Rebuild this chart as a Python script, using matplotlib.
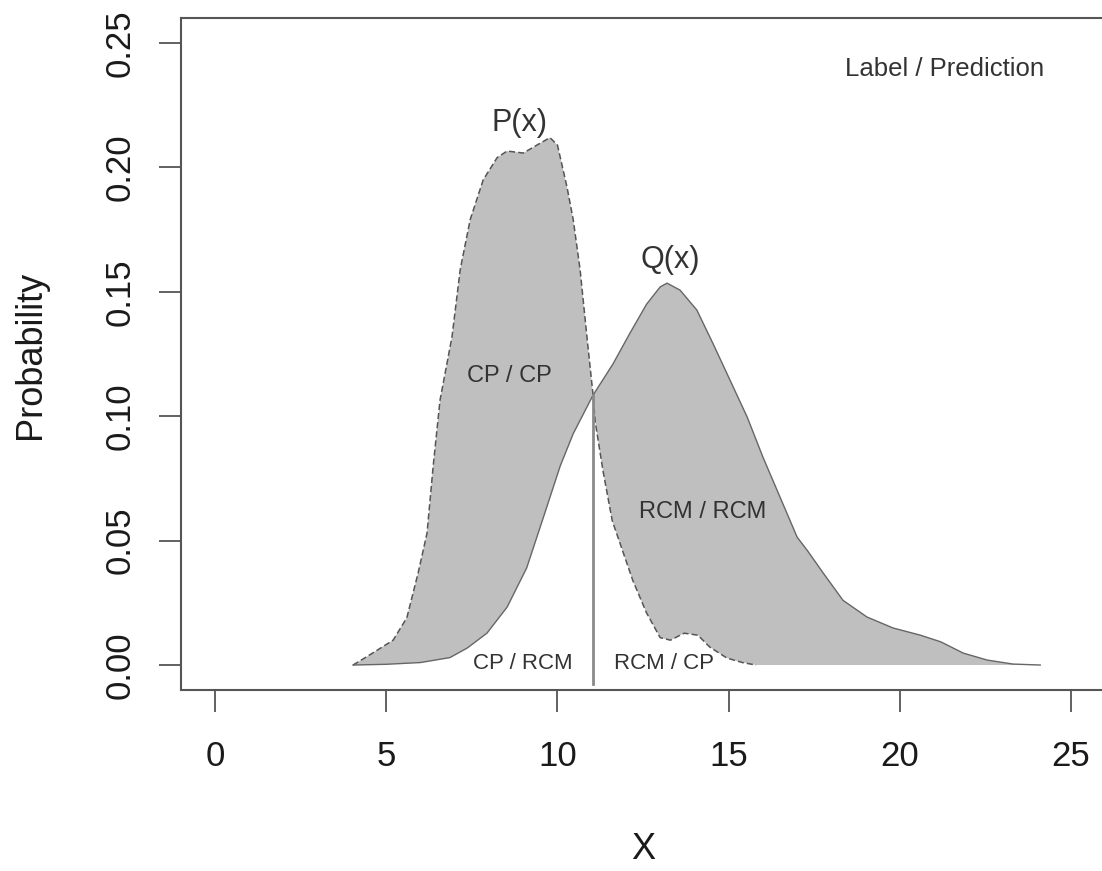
import numpy as np
import matplotlib.pyplot as plt

plt.rcParams['font.family'] = ['Liberation Sans', 'DejaVu Sans']

# P(x) curve (dashed)
p_x = [4.03, 4.6, 5.2, 5.6, 5.93, 6.19, 6.37, 6.57, 6.92, 7.16, 7.45, 7.83, 8.24, 8.53,
       9.0, 9.4, 9.78, 10.0, 10.28, 10.46, 10.66, 10.86, 11.04, 11.1, 11.33, 11.6, 11.9,
       12.2, 12.6, 13.0, 13.3, 13.7, 14.1, 14.45, 14.95, 15.4, 15.8]
p_y = [0.0, 0.0048, 0.010, 0.019, 0.037, 0.053, 0.080, 0.1065, 0.132, 0.159, 0.179, 0.195,
       0.204, 0.2066, 0.2058, 0.209, 0.212, 0.209, 0.192, 0.179, 0.159, 0.132, 0.1085,
       0.098, 0.078, 0.058, 0.046, 0.034, 0.021, 0.011, 0.010, 0.0128, 0.012, 0.0072,
       0.0028, 0.001, 0.0]

# Q(x) curve (solid)
q_x = [4.03, 5.0, 6.0, 6.86, 7.36, 7.94, 8.53, 9.1, 9.58, 10.08, 10.46, 11.04, 11.62, 12.1,
       12.6, 13.0, 13.2, 13.58, 14.07, 14.55, 15.04, 15.54, 16.0, 16.5, 17.0, 17.3, 17.76,
       18.34, 19.04, 19.8, 20.6, 21.2, 21.85, 22.55, 23.3, 24.1]
q_y = [0.0, 0.0003, 0.001, 0.003, 0.0068, 0.0128, 0.0233, 0.039, 0.059, 0.080, 0.093,
       0.1085, 0.121, 0.133, 0.145, 0.152, 0.1535, 0.1507, 0.1427, 0.129, 0.1145, 0.0997,
       0.0836, 0.0675, 0.0514, 0.046, 0.037, 0.026, 0.0193, 0.0149, 0.012, 0.0093, 0.0048,
       0.002, 0.0004, 0.0]

threshold = 11.04
x_ticks = [0, 5, 10, 15, 20, 25]
y_ticks = [0.00, 0.05, 0.10, 0.15, 0.20, 0.25]

fig = plt.figure(figsize=(11.02, 8.71), dpi=100)
ax = fig.add_axes([0.1641, 0.2079, 0.8389, 0.7712])

# grey area between the two curves
poly_x = np.concatenate([p_x, q_x[::-1]])
poly_y = np.concatenate([p_y, q_y[::-1]])
ax.fill(poly_x, poly_y, color='#bfbfbf', lw=0)
ax.plot(p_x, p_y, color='#555555', lw=1.1, ls=(0, (4, 2)))
ax.plot(q_x, q_y, color='#666666', lw=1.0)
ax.plot([threshold, threshold], [0.1085, -0.0075], color='#8a8a8a', lw=2)

ax.text(8.9, 0.218, 'P(x)', fontsize=22, ha='center', va='center', color='#333333')
ax.text(13.3, 0.163, 'Q(x)', fontsize=22, ha='center', va='center', color='#333333')
ax.text(21.3, 0.2395, 'Label / Prediction', fontsize=18.5, ha='center', va='center', color='#333333')
ax.text(8.6, 0.116, 'CP / CP', fontsize=17, ha='center', va='center', color='#333333')
ax.text(14.25, 0.0615, 'RCM / RCM', fontsize=17, ha='center', va='center', color='#333333')
ax.text(9.0, 0.0008, 'CP / RCM', fontsize=16, ha='center', va='center', color='#333333')
ax.text(13.1, 0.0008, 'RCM / CP', fontsize=16, ha='center', va='center', color='#333333')

ax.set_xlim(-1, 26)
ax.set_ylim(-0.01, 0.26)
ax.set_xticks(x_ticks)
ax.set_yticks(y_ticks)
ax.set_xticklabels([str(t) for t in x_ticks])
ax.set_yticklabels(['%.2f' % t for t in y_ticks])
ax.tick_params(direction='out', length=16, width=1.3, color='#555555', labelsize=25,
               labelcolor='#1a1a1a')
ax.tick_params(axis='x', pad=20)
ax.tick_params(axis='y', pad=16)
for lab in ax.get_yticklabels():
    lab.set_rotation(90)
    lab.set_va('center')
for s in ax.spines.values():
    s.set_color('#555555')
    s.set_linewidth(1.5)

ax.set_xlabel('X', fontsize=26, color='#1a1a1a')
ax.xaxis.set_label_coords(0.5, -0.212)
ax.set_ylabel('Probability', fontsize=26, color='#1a1a1a', va='center')
ax.yaxis.set_label_coords(-0.163, 0.4986)

fig.savefig('out.png', dpi=100)
